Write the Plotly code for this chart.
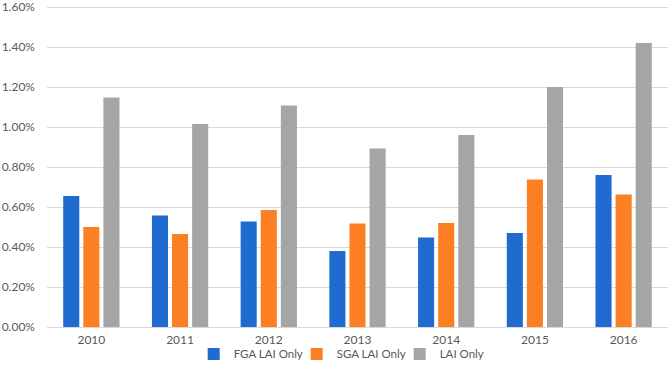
import plotly.graph_objects as go

years = ["2010", "2011", "2012", "2013", "2014", "2015", "2016"]
fga_lai_only = [0.655, 0.557, 0.527, 0.380, 0.447, 0.470, 0.760]
sga_lai_only = [0.500, 0.465, 0.585, 0.518, 0.520, 0.738, 0.663]
lai_only = [1.148, 1.015, 1.107, 0.893, 0.960, 1.200, 1.420]
y_ticks = [0, 0.2, 0.4, 0.6, 0.8, 1.0, 1.2, 1.4, 1.6]
y_tick_labels = ["0.00%", "0.20%", "0.40%", "0.60%", "0.80%", "1.00%", "1.20%", "1.40%", "1.60%"]

series = [
    ("FGA LAI Only", fga_lai_only, "#1f6bd0"),
    ("SGA LAI Only", sga_lai_only, "#fd7f23"),
    ("LAI Only", lai_only, "#a5a5a5"),
]

fig = go.Figure()
for name, vals, color in series:
    fig.add_trace(go.Bar(x=years, y=vals, name=name, marker=dict(color=color, line=dict(width=0))))

font_family = "Lato, 'Open Sans', 'Liberation Sans', sans-serif"
fig.update_layout(
    width=671, height=381,
    margin=dict(l=47, r=3, t=3, b=54, autoexpand=False),
    paper_bgcolor="white", plot_bgcolor="white",
    barmode="group", bargap=0.32, bargroupgap=0.2,
    font=dict(family=font_family, size=12, color="#595959"),
    showlegend=True,
    legend=dict(orientation="h", x=0.485, xanchor="center", y=-0.083, yanchor="middle",
                bgcolor="rgba(0,0,0,0)",
                font=dict(size=11.5, color="#595959"), itemwidth=30, entrywidth=58,
                traceorder="normal"),
    xaxis=dict(showgrid=False, showline=False, ticks="", tickfont=dict(size=12),
               automargin=False, ticklabelstandoff=4),
    yaxis=dict(range=[0, 1.62], tickvals=y_ticks, ticktext=y_tick_labels,
               showgrid=True, gridcolor="#d9d9d9", gridwidth=1, zeroline=True,
               zerolinecolor="#d9d9d9", zerolinewidth=1, showline=False, ticks="",
               tickfont=dict(size=12), automargin=False, ticklabelstandoff=11,
               ticklabeloverflow="allow"),
)

fig.write_html("out.html", config={"displayModeBar": False},
               post_script="document.body.style.margin='0';document.body.style.overflow='hidden';")
